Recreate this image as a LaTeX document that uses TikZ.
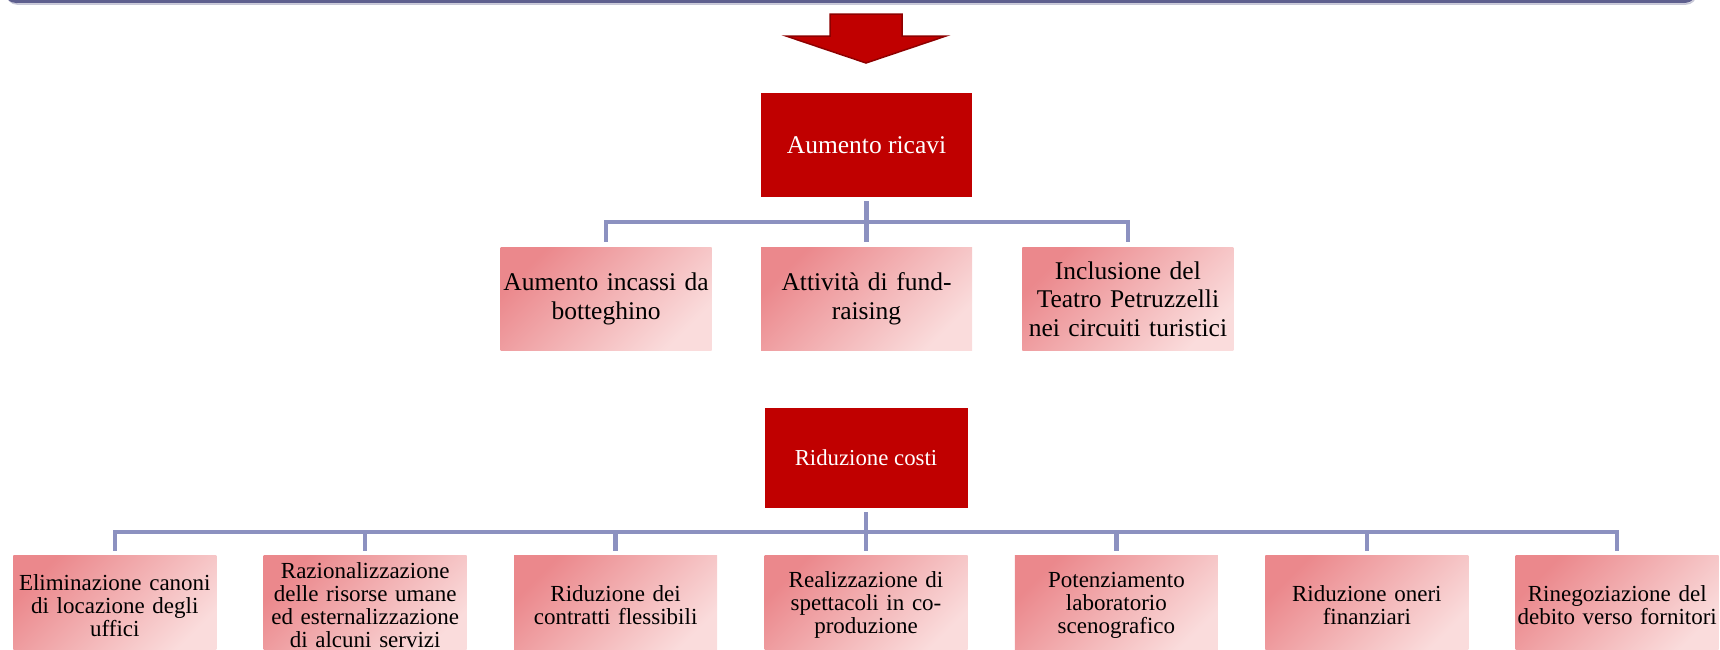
\documentclass[tikz,border=0pt]{standalone}
\usepackage{fontspec}
\setmainfont{Liberation Serif}
\usetikzlibrary{positioning, calc}

\definecolor{mainred}{HTML}{C00000}
\definecolor{arrowedge}{HTML}{8E0000}
\definecolor{pinkdark}{HTML}{EB888C}
\definecolor{pinklight}{HTML}{FADCDC}
\definecolor{linkblue}{HTML}{8C91C0}
\definecolor{barblue}{HTML}{5E5F8E}

\begin{document}
\begin{tikzpicture}[x=1pt, y=1pt]
    \tikzstyle{head} = [fill=mainred, text=white, inner sep=0pt, align=center];
    \tikzstyle{leaf} = [top color=pinkdark, bottom color=pinklight, shading angle=45, inner xsep=0pt, inner ysep=0pt, align=center];
    \tikzstyle{upper} = [minimum width=211pt, text width=211pt, minimum height=103pt, font=\fontsize{25.5}{28.5}\selectfont];
    \tikzstyle{lower} = [minimum width=203pt, text width=203pt, minimum height=100pt, font=\fontsize{23}{23}\selectfont];
    \tikzstyle{link} = [draw=linkblue, line width=4.5pt];

    \useasboundingbox (0,0) rectangle (1720,-649);
    \clip (0,0) rectangle (1720,-649);

    % frame edge and arrow
    \draw[draw=barblue!35, line width=1.5pt, rounded corners=10pt] (7,20) -- (7,-4) -- (1696,-4) -- (1696,20);
    \draw[draw=barblue, line width=3pt, rounded corners=10pt] (6,20) -- (6,-1.5) -- (1695,-1.5) -- (1695,20);
    \filldraw[fill=mainred, draw=arrowedge, line width=1.5pt] (830,-14) -- (902,-14) -- (902,-36) -- (946,-36) -- (866,-63) -- (786,-36) -- (830,-36) -- cycle;

    % revenues
    \node[head, minimum width=211pt, minimum height=104pt, font=\fontsize{25.5}{28.5}\selectfont] (ricavi) at (866.5,-145) {Aumento ricavi};
    \node[leaf, upper, below = 50pt of ricavi] (fund) {Attività di fund-\\raising};
    \node[leaf, upper, left = 49pt of fund] (botteghino) {Aumento incassi da\\botteghino};
    \node[leaf, upper, right = 50pt of fund] (turismo) {Inclusione del\\Teatro Petruzzelli\\nei circuiti turistici};

    \coordinate[below = 25pt of ricavi] (hubA);
    \draw[link] ([yshift=-4pt]ricavi.south) -- (hubA);
    \foreach \leafname in {botteghino, fund, turismo}
        \draw[link] (hubA) -| ([yshift=5pt]\leafname.north);

    % costs
    \node[head, minimum width=203pt, minimum height=100pt, font=\fontsize{22.8}{25}\selectfont] (costi) at (866,-458) {Riduzione costi};
    \node[leaf, lower, below = 47pt of costi] (coprod) {Realizzazione di\\spettacoli in co-\\produzione};
    \node[leaf, lower, left = 47pt of coprod] (contratti) {Riduzione dei\\contratti flessibili};
    \node[leaf, lower, left = 47pt of contratti] (risorse) {Razionalizzazione\\delle risorse umane\\ed esternalizzazione\\di alcuni servizi};
    \node[leaf, lower, left = 47pt of risorse] (canoni) {Eliminazione canoni\\di locazione degli\\uffici};
    \node[leaf, lower, right = 47pt of coprod] (laboratorio) {Potenziamento\\laboratorio\\scenografico};
    \node[leaf, lower, right = 47pt of laboratorio] (oneri) {Riduzione oneri\\finanziari};
    \node[leaf, lower, right = 47pt of oneri] (debito) {Rinegoziazione del\\debito verso fornitori};

    \coordinate[below = 24pt of costi] (hubB);
    \draw[link] ([yshift=-4pt]costi.south) -- (hubB);
    \foreach \leafname in {canoni, risorse, contratti, coprod, laboratorio, oneri, debito}
        \draw[link] (hubB) -| ([yshift=4pt]\leafname.north);
\end{tikzpicture}
\end{document}
